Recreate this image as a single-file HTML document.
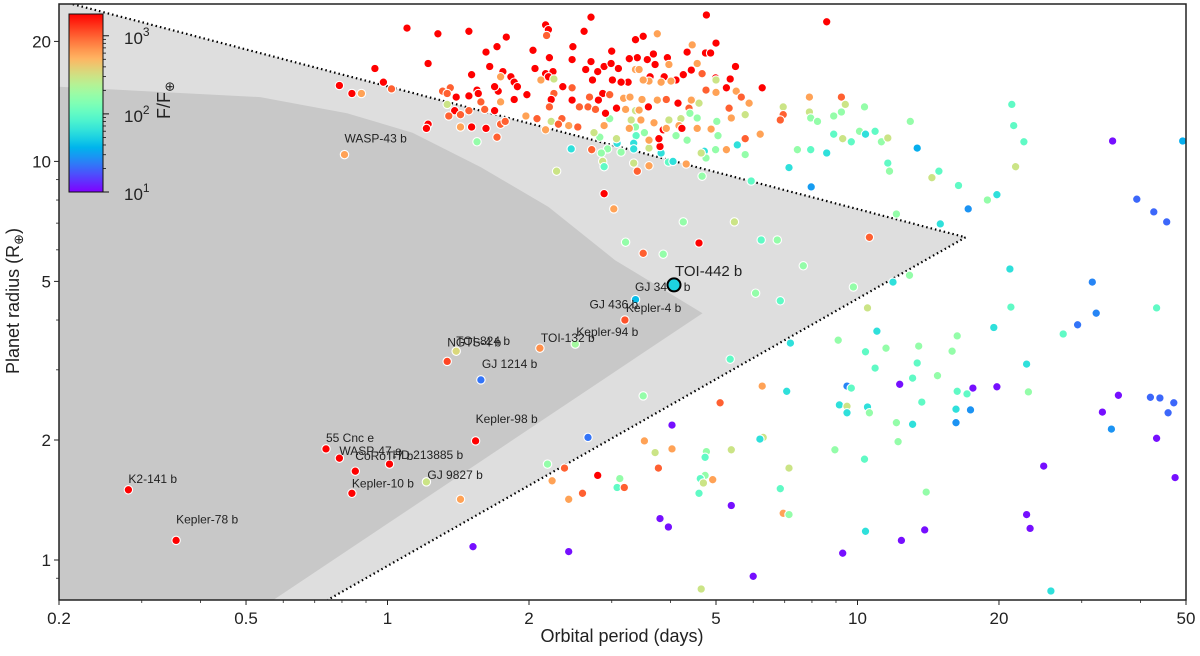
<!DOCTYPE html>
<html><head><meta charset="utf-8"><title>Planet radius vs orbital period</title>
<style>
html,body{margin:0;padding:0;background:#fff;}
svg{display:block;font-family:"Liberation Sans","DejaVu Sans",sans-serif;}
</style></head>
<body>
<svg id="chart" width="1200" height="656" viewBox="0 0 1200 656" xmlns="http://www.w3.org/2000/svg">
<defs>
<clipPath id="plotclip"><rect x="59" y="4" width="1127" height="596"/></clipPath>
<linearGradient id="cbgrad" x1="0" y1="1" x2="0" y2="0"></linearGradient>
</defs>
<g id="bg" clip-path="url(#plotclip)"></g>
<g id="lines" clip-path="url(#plotclip)"></g>
<g id="points" clip-path="url(#plotclip)"></g>
<g id="labels"></g>
<rect x="59" y="4" width="1127" height="596" fill="none" stroke="#222" stroke-width="1.5"/>
<g id="xaxis"></g>
<g id="yaxis"></g>
<text x="622" y="642" font-size="18" text-anchor="middle" fill="#222">Orbital period (days)</text>
<text x="0" y="0" transform="translate(19,301) rotate(-90)" font-size="18" text-anchor="middle" fill="#222">Planet radius (R<tspan font-size="13" dy="4">⊕</tspan><tspan dy="-4">)</tspan></text>
<g id="colorbar"></g>
</svg>
<script>
// ---- data: [period (days), radius (Earth radii), insolation (F/F_earth)] ----
const planetData = [
[1.10,21.6,2000],[1.28,20.9,2000],[1.49,21.2,2000],[1.79,20.5,2000],[2.17,22.0,2000],[2.20,21.4,2000],[2.18,20.7,1000],[2.71,23.0,2000],[2.62,21.2,2000],[4.77,23.3,2000],
[5.0,19.8,2000],[4.75,18.7,2000],[4.87,18.7,2000],[4.34,18.8,2000],[3.75,20.9,600],[3.50,20.6,2000],[3.37,20.2,2000],[4.45,19.6,600],[2.48,19.4,2000],[3.0,18.9,2000],
[2.04,19.0,2000],[1.71,19.4,2000],[1.62,18.8,2000],[2.21,18.2,2000],[2.47,18.0,2000],[3.40,18.2,2000],[3.68,18.6,2000],[3.94,18.2,2000],[3.27,18.1,2000],[3.57,18.0,2000],
[3.71,17.5,2000],[3.97,17.5,600],[4.56,17.6,600],[5.5,17.3,2000],[4.43,16.95,2000],[4.67,16.6,1000],[4.26,16.5,2000],[2.89,17.3,2000],[2.99,17.6,2000],[2.71,17.8,2000],
[2.64,17.0,2000],[2.80,16.8,2000],[3.10,17.1,2000],[3.37,17.0,600],[3.43,17.0,600],[3.62,16.3,2000],[3.88,16.3,2000],[4.11,16.0,2000],[4.99,16.2,2000],[5.0,16.0,300],
[5.36,16.1,2000],[6.27,15.3,2000],[2.06,17.1,2000],[2.17,16.6,2000],[2.25,16.8,2000],[2.2,16.3,2000],[2.12,16.0,600],[2.26,16.1,300],[1.76,16.8,2000],[1.65,17.3,2000],
[1.74,16.3,600],[1.83,16.3,2000],[1.86,15.8,2000],[1.89,15.4,2000],[1.98,14.7,2000],[1.86,14.3,2000],[1.72,15.0,2000],[1.69,15.4,2000],[1.55,15.1,2000],[1.49,14.6,2000],
[1.56,14.8,2000],[1.58,14.1,1000],[1.51,16.5,2000],[1.22,17.6,2000],[0.94,17.1,2000],[0.98,15.8,2000],[0.79,15.5,2000],[0.84,14.8,2000],[0.88,14.8,600],[1.02,15.2,1000],
[1.31,15.0,1000],[1.36,15.3,1000],[1.34,14.8,1000],[1.40,14.5,2000],[1.34,13.9,300],[1.39,13.4,2000],[1.43,13.1,1000],[1.35,13.0,1000],[1.43,12.2,600],[1.51,12.2,2000],
[1.62,12.1,2000],[1.69,13.4,2000],[1.61,13.5,1000],[1.49,13.4,1000],[1.74,14.1,600],[1.97,13.0,600],[2.08,12.8,1000],[2.23,12.6,300],[2.35,12.8,1000],[2.31,12.4,1000],
[2.43,12.3,600],[2.54,12.2,1000],[2.17,12.0,600],[1.74,12.4,1000],[1.78,12.6,1000],[1.22,12.4,2000],[1.21,12.1,2000],[1.71,11.5,1000],[1.55,11.2,170],[2.46,10.75,60],
[2.72,10.7,1000],[2.29,9.45,300],[2.89,8.3,2000],[3.03,7.6,600],[4.26,7.05,170],[5.47,7.05,300],[3.21,6.27,170],[4.60,6.24,2000],[6.24,6.35,100],[6.75,6.35,170],
[3.50,5.88,1000],[3.86,5.85,170],[8.6,22.4,2000],
[2.56,13.7,1000],[2.67,13.7,1000],[2.77,13.5,1000],[2.87,14.8,2000],[2.97,14.7,1000],[3.18,14.4,600],[3.28,14.5,600],[3.48,14.3,600],[3.07,13.6,2000],[3.21,13.5,600],
[3.37,13.4,300],[3.43,13.45,600],[3.59,13.7,2000],[3.75,14.25,600],[3.92,14.3,1000],[4.15,14.0,2000],[4.38,13.6,1000],[4.45,14.3,600],[4.60,14.0,300],[4.76,15.1,1000],
[5.0,14.9,600],[5.26,15.3,2000],[5.52,15.0,600],[5.66,14.5,1000],[5.88,14.0,600],[5.33,13.6,1000],[5.39,12.85,600],[5.77,13.1,300],[5.02,12.6,170],[4.88,12.05,600],
[5.05,11.6,170],[5.77,11.4,1000],[6.21,11.7,600],[5.55,11.0,60],[5.77,10.4,170],[5.26,10.7,600],[4.99,10.7,170],[4.72,10.6,60],[4.76,10.2,170],[4.65,10.5,300],
[4.67,9.18,170],[4.32,9.85,600],[3.96,9.96,100],[4.05,10.0,60],[3.82,10.5,60],[3.80,10.9,2000],[3.78,11.4,2000],[3.60,10.8,300],[3.60,11.3,600],[3.52,11.8,170],
[3.37,12.2,170],[3.27,12.1,600],[3.38,11.6,100],[3.34,11.1,60],[3.34,10.75,60],[3.08,11.1,60],[3.07,11.4,300],[3.14,10.55,170],[2.94,10.75,170],[2.85,10.5,170],
[2.83,11.5,170],[2.75,11.8,300],[2.89,12.3,600],[2.97,12.8,170],[2.91,13.2,2000],[3.30,12.7,300],[3.46,12.7,600],[3.69,12.5,600],[3.86,12.0,2000],[3.97,12.7,300],
[4.21,12.8,300],[4.17,12.3,600],[4.40,13.2,170],[4.56,12.85,170],[4.34,11.3,170],[4.11,11.6,170],[4.23,12.1,2000],[3.92,12.1,600],[4.56,12.1,600],[2.87,10.0,300],
[2.89,9.7,100],[3.34,9.9,300],[3.40,9.45,1000],[3.60,9.75,600],[5.94,8.93,100],[4.43,14.25,600],[4.01,15.9,600],[3.82,15.8,600],[3.60,15.9,600],[3.50,16.0,600],
[3.25,15.8,2000],[3.14,15.8,2000],[3.01,16.0,2000],[2.73,16.0,2000],[2.81,14.25,2000],[2.69,14.5,1000],[2.47,14.25,2000],[2.47,15.3,1000],[2.36,15.4,2000],[2.26,14.8,1000],
[2.23,14.3,2000],[2.21,13.7,1000],
[6.95,13.7,300],[7.9,14.5,600],[9.24,14.5,1000],[9.42,13.9,300],[10.35,13.7,170],[6.95,13.1,1000],[6.85,12.7,1000],[7.9,13.3,300],[7.95,12.85,170],[8.22,12.6,170],
[8.9,13.0,170],[9.24,13.3,170],[8.9,11.7,100],[9.3,11.4,300],[9.70,11.2,100],[10.1,11.9,170],[10.4,11.7,60],[10.9,11.9,100],[11.24,11.2,170],[11.6,11.45,300],
[12.95,12.6,170],[7.45,10.7,170],[7.95,10.7,100],[8.6,10.5,60],[7.15,9.65,60],[13.4,10.8,35],[11.6,9.9,100],[11.7,9.45,170],[14.4,9.1,300],[14.9,9.45,100],
[21.3,13.9,100],[21.5,12.3,100],[22.6,11.2,100],[21.7,9.7,300],[34.9,11.25,11],[49.2,11.25,35],[7.97,8.63,30],[16.4,8.7,100],[17.2,7.6,28],[18.9,8.0,170],
[19.8,8.25,60],[12.1,7.38,170],[15.0,6.97,60],[39.3,8.04,20],[42.7,7.47,20],[45.5,7.05,20],[10.6,6.45,1000],[7.67,5.47,170],[9.8,4.84,170],[6.07,4.67,170],
[6.85,4.47,100],[11.9,4.98,60],[12.9,5.18,170],[21.1,5.37,60],[31.6,4.98,25],[21.2,4.31,100],[43.3,4.29,100],[32.2,4.16,25],[29.4,3.89,22],[27.4,3.69,100],
[19.5,3.83,60],[22.9,3.10,60],[11.0,3.75,60],[10.5,4.29,300],[7.2,3.50,60],[9.1,3.56,170],[10.4,3.33,100],[11.5,3.40,170],[13.5,3.44,170],[16.3,3.65,170],
[15.9,3.34,170],[10.9,3.03,100],[13.4,3.12,100],[13.1,2.86,100],[14.8,2.90,170],[12.3,2.76,11],[17.6,2.70,11],[19.8,2.72,11],[16.3,2.65,100],[17.1,2.61,100],
[23.1,2.64,170],[35.9,2.59,11],[42.0,2.56,20],[44.0,2.55,20],[47.1,2.48,20],[45.8,2.34,20],[33.2,2.35,11],[34.7,2.13,28],[43.3,2.02,11],[6.27,2.73,600],
[7.07,2.65,60],[9.5,2.73,25],[9.7,2.70,100],[9.15,2.45,60],[9.5,2.43,300],[10.5,2.42,60],[9.5,2.34,60],[10.6,2.34,170],[13.7,2.49,100],[16.2,2.39,60],
[17.4,2.38,28],[16.2,2.21,28],[12.1,2.21,170],[13.1,2.19,60],[12.2,1.98,170],[6.3,2.03,300],[6.2,2.01,60],[8.95,1.89,170],[10.35,1.79,100],[7.15,1.70,300],
[24.9,1.72,11],[47.4,1.61,11],[6.85,1.51,100],[14.0,1.48,170],[6.95,1.31,600],[7.15,1.30,170],[22.9,1.30,11],[23.3,1.20,11],[10.4,1.18,60],[13.9,1.19,11],
[12.4,1.12,11],[9.3,1.04,11],[6.0,0.91,11],[25.8,0.836,60],
[5.36,3.19,100],[3.50,2.58,170],[5.1,2.48,1000],[4.03,2.18,11],[2.67,2.03,22],[3.52,1.99,600],[4.03,1.90,600],[3.71,1.86,300],[4.77,1.87,170],[4.74,1.81,100],
[5.39,1.89,300],[3.77,1.70,1000],[2.8,1.63,2000],[2.38,1.70,1000],[2.19,1.74,170],[2.24,1.58,600],[2.43,1.42,600],[2.60,1.47,1000],[3.12,1.60,170],[3.08,1.52,100],
[3.19,1.52,1000],[4.74,1.63,170],[4.63,1.60,100],[4.92,1.59,600],[4.70,1.56,300],[4.60,1.47,100],[5.39,1.37,11],[3.8,1.27,11],[3.96,1.21,11],[1.52,1.08,11],
[2.43,1.05,11],[4.65,0.846,300],[1.43,1.42,600]
];
// labelled planets
const namedPlanets = ["K2-141 b","Kepler-78 b","55 Cnc e","WASP-47 e","CoRoT-7 b","HD 213885 b","Kepler-10 b","GJ 9827 b","Kepler-98 b","GJ 1214 b","NGTS-4 b","TOI-824 b","TOI-132 b","Kepler-94 b","Kepler-4 b","GJ 436 b","GJ 3470 b","WASP-43 b"];
const namedPeriods = [0.281,0.355,0.74,0.79,0.854,1.01,0.84,1.21,1.54,1.58,1.34,1.40,2.11,2.51,3.2,3.37,4.07,0.81];
const namedRadii   = [1.50,1.12,1.90,1.80,1.67,1.74,1.47,1.57,1.99,2.83,3.15,3.34,3.40,3.48,4.0,4.5,4.9,10.4];
const namedFlux    = [2000,2000,2000,2000,2000,2000,2000,300,2000,22,1200,350,700,200,1100,40,60,600];
const labelDx = [0,0,0,0,0,3,0,1,0,1,0,0,1,1,1,-46,-39,0];
const labelDy = [-7,-17,-7,-3,-11,-5,-6,-3,-18,-12,-15,-6,-6,-8,-8,9,6,-12];
const targetName = "TOI-442 b";
const targetPeriod = 4.07, targetRadius = 4.9, targetFlux = 50;
// desert boundary polygons (period, radius)
const darkPeriods = [0.2,0.536,0.82,1.13,1.58,2.2,3.05,4.68,0.572,0.2];
const darkRadii   = [15.4,14.5,13.2,11.8,9.67,7.69,5.65,4.16,0.794,0.794];
const lightPeriods = [0.2,0.214,16.98,0.746,0.2];
const lightRadii   = [25.2,24.8,6.45,0.794,0.794];
const xTicks = [0.2,0.5,1,2,5,10,20,50];
const xTickLabels = ["0.2","0.5","1","2","5","10","20","50"];
const yTicks = [1,2,5,10,20];
const yTickLabels = ["1","2","5","10","20"];
const fluxMin = 10, fluxMax = 1900;

const NS = "http://www.w3.org/2000/svg";
const X0 = 59, X1 = 1186, Y0 = 4, Y1 = 600;
const pMin = 0.2, pMax = 50;
const pxPerDecX = (X1 - X0) / Math.log10(pMax / pMin);
const pxPerDecY = 398.6;
function xs(p){ return X0 + pxPerDecX * Math.log10(p / pMin); }
function ys(r){ return 560 - pxPerDecY * Math.log10(r); }
function rainbow(t){
  t = Math.max(0, Math.min(1, t));
  const r = Math.min(1, Math.abs(2*t - 0.5));
  const g = Math.sin(t*Math.PI);
  const b = Math.cos(t*Math.PI/2);
  return "rgb(" + Math.round(r*255) + "," + Math.round(g*255) + "," + Math.round(b*255) + ")";
}
function fluxT(f){ return (Math.log10(f) - Math.log10(fluxMin)) / (Math.log10(fluxMax) - Math.log10(fluxMin)); }
function mk(tag, attrs, parent){
  const e = document.createElementNS(NS, tag);
  for (const k in attrs) e.setAttribute(k, attrs[k]);
  parent.appendChild(e);
  return e;
}
const svg = document.getElementById("chart");
const bg = document.getElementById("bg");
const lines = document.getElementById("lines");
const pts = document.getElementById("points");
const lbl = document.getElementById("labels");

// regions
function polyStr(ps, rs){ return ps.map((p,i)=> xs(p).toFixed(1) + "," + ys(rs[i]).toFixed(1)).join(" "); }
const light = mk("polygon", {points: polyStr(lightPeriods, lightRadii), fill: "#dedede"}, bg);


const dark = mk("polygon", {points: polyStr(darkPeriods, darkRadii), fill: "#c8c8c8"}, bg);


const upper = mk("line", {x1: xs(lightPeriods[1]), y1: ys(lightRadii[1]), x2: xs(lightPeriods[2]), y2: ys(lightRadii[2]), stroke: "#000", "stroke-width": 2.2, "stroke-dasharray": "1.5 3"}, lines);


const lower = mk("line", {x1: xs(lightPeriods[2]), y1: ys(lightRadii[2]), x2: xs(lightPeriods[3]), y2: ys(lightRadii[3]), stroke: "#000", "stroke-width": 2.2, "stroke-dasharray": "1.5 3"}, lines);



// points
planetData.forEach(function(d){
  const c = mk("circle", {cx: xs(d[0]).toFixed(1), cy: ys(d[1]).toFixed(1), r: 4.2, fill: rainbow(fluxT(d[2])), stroke: "#fff", "stroke-width": 1.1}, pts);
  
  
});
namedPlanets.forEach(function(n, i){
  const cx = xs(namedPeriods[i]), cy = ys(namedRadii[i]);
  const c = mk("circle", {cx: cx.toFixed(1), cy: cy.toFixed(1), r: 4.2, fill: rainbow(fluxT(namedFlux[i])), stroke: "#fff", "stroke-width": 1.1}, pts);
  
  
  const t = mk("text", {x: (cx + labelDx[i]).toFixed(1), y: (cy + labelDy[i]).toFixed(1), "font-size": 12, fill: "#222"}, lbl);
  t.textContent = n;
  
  
});
const tcx = xs(targetPeriod), tcy = ys(targetRadius);
const tc = mk("circle", {cx: tcx, cy: tcy, r: 6.5, fill: rainbow(fluxT(targetFlux)), stroke: "#000", "stroke-width": 2}, lbl);


const tt = mk("text", {x: tcx + 1, y: tcy - 9, "font-size": 15, fill: "#222"}, lbl);
tt.textContent = targetName;



// axes
const xa = document.getElementById("xaxis");
const ya = document.getElementById("yaxis");
xTicks.forEach(function(v, i){
  const x = xs(v);
  mk("line", {x1: x, y1: Y1, x2: x, y2: Y1 + 5, stroke: "#222", "stroke-width": 1}, xa);
  const t = mk("text", {x: x, y: Y1 + 24, "font-size": 17, "text-anchor": "middle", fill: "#222"}, xa);
  t.textContent = xTickLabels[i];
  
  
});
[0.3,0.4,0.6,0.7,0.8,0.9,3,4,6,7,8,9,30,40].forEach(function(v){
  const x = xs(v);
  mk("line", {x1: x, y1: Y1, x2: x, y2: Y1 + 3, stroke: "#222", "stroke-width": 0.8}, xa);
});
yTicks.forEach(function(v, i){
  const y = ys(v);
  mk("line", {x1: X0 - 5, y1: y, x2: X0, y2: y, stroke: "#222", "stroke-width": 1}, ya);
  const t = mk("text", {x: X0 - 8, y: y + 6, "font-size": 17, "text-anchor": "end", fill: "#222"}, ya);
  t.textContent = yTickLabels[i];
  
  
});
[0.9,3,4,6,7,8,9].forEach(function(v){
  const y = ys(v);
  mk("line", {x1: X0 - 3, y1: y, x2: X0, y2: y, stroke: "#222", "stroke-width": 0.8}, ya);
});

// colorbar
const grad = document.getElementById("cbgrad");
for (let i = 0; i <= 20; i++){
  mk("stop", {offset: (i/20), "stop-color": rainbow(i/20)}, grad);
}
const cb = document.getElementById("colorbar");
const CBX = 69, CBW = 34, CBT = 14, CBB = 192;
const cbr = mk("rect", {x: CBX, y: CBT, width: CBW, height: CBB - CBT, fill: "url(#cbgrad)", stroke: "#111", "stroke-width": 1}, cb);


function cby(f){ return CBB - (CBB - CBT) * fluxT(f); }
[10,100,1000].forEach(function(f, i){
  const y = cby(f);
  mk("line", {x1: CBX + CBW, y1: y, x2: CBX + CBW + 6, y2: y, stroke: "#111", "stroke-width": 1}, cb);
  const t = mk("text", {x: CBX + CBW + 21, y: y + 8, "font-size": 17, fill: "#222"}, cb);
  t.textContent = "10";
  const s = mk("tspan", {dy: -8, "font-size": 12}, t);
  s.textContent = String(i + 1);
  
  
});
[20,30,40,50,60,70,80,90,200,300,400,500,600,700,800,900].forEach(function(f){
  const y = cby(f);
  mk("line", {x1: CBX + CBW, y1: y, x2: CBX + CBW + 3, y2: y, stroke: "#111", "stroke-width": 0.8}, cb);
});
const cbt = mk("text", {transform: "translate(170,100) rotate(-90)", "font-size": 18, "text-anchor": "middle", fill: "#222"}, cb);
cbt.textContent = "F/F";
const cbs = mk("tspan", {dy: 4, "font-size": 13}, cbt);
cbs.textContent = "⊕";


</script>
</body></html>
